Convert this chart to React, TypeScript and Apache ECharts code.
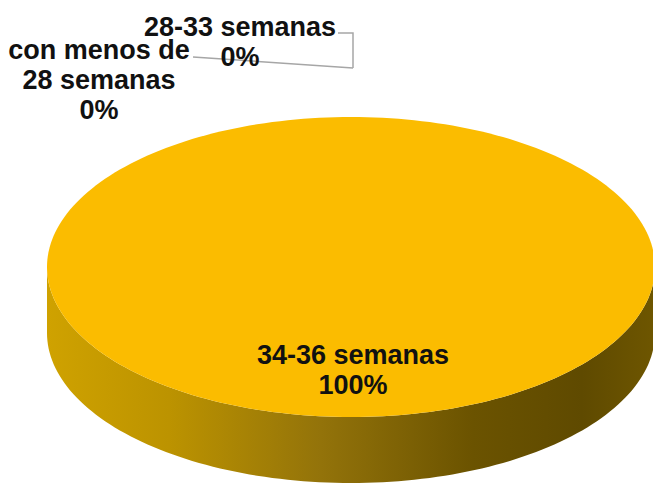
import React, { useEffect, useRef } from "react";
import * as echarts from "echarts";

const categories = ["con menos de\n28 semanas", "28-33 semanas", "34-36 semanas"];
const values = [0, 0, 100];

const W = 653;
const H = 483;
const CX = 351;
const CY = 267;
const RX = 304;
const RY = 150;
const DEPTH = 66;
const TOP_COLOR = "#FBBC00";
const TEXT_COLOR = "#111111";
const FONT = "'Liberation Sans', Arial, sans-serif";

const labelPos: [number, number][] = [
  [99, 80],
  [240, 42],
  [353, 370],
];
const leaders: [number, number][][] = [
  [[193, 57], [353, 68]],
  [[338, 33], [353, 33], [353, 68]],
  [],
];

const total = values.reduce((a, b) => a + b, 0);

function ellipsePoint(angle: number, dy = 0): [number, number] {
  return [CX + RX * Math.cos(angle), CY + dy + RY * Math.sin(angle)];
}

function arcPoints(a0: number, a1: number, dy = 0): [number, number][] {
  const n = Math.max(2, Math.ceil((Math.abs(a1 - a0) / (2 * Math.PI)) * 240));
  const pts: [number, number][] = [];
  for (let i = 0; i <= n; i++) pts.push(ellipsePoint(a0 + ((a1 - a0) * i) / n, dy));
  return pts;
}

export default function App() {
  const ref = useRef<HTMLDivElement>(null);

  useEffect(() => {
    const chart = echarts.init(ref.current!, null, { renderer: "svg" });
    const startAt = -Math.PI / 2;

    chart.setOption({
      animation: false,
      backgroundColor: "#ffffff",
      xAxis: { show: false, type: "value", min: 0, max: W },
      yAxis: { show: false, type: "value", min: 0, max: H },
      grid: { left: 0, right: 0, top: 0, bottom: 0 },
      series: [
        {
          type: "custom",
          coordinateSystem: "none",
          silent: true,
          clip: false,
          data: values.map((v, i) => ({ value: v, name: categories[i] })),
          renderItem: (params: any, api: any) => {
            const i = params.dataIndex;
            const v = api.value(0) as number;
            const before = values.slice(0, i).reduce((a, b) => a + b, 0);
            const a0 = startAt + (before / total) * 2 * Math.PI;
            const a1 = a0 + (v / total) * 2 * Math.PI;
            const children: any[] = [];

            if (v > 0) {
              const full = v === total;
              const from = full ? 0 : Math.max(a0, 0);
              const to = full ? Math.PI : Math.min(a1, Math.PI);
              children.push({
                type: "polygon",
                shape: {
                  points: [...arcPoints(from, to, DEPTH), ...arcPoints(to, from, 0)],
                },
                style: {
                  fill: new echarts.graphic.LinearGradient(1, 0, 0, 0, [
                    { offset: 0, color: "#6E5600" },
                    { offset: 0.12, color: "#5F4A00" },
                    { offset: 0.3, color: "#6B5300" },
                    { offset: 0.55, color: "#93730A" },
                    { offset: 0.8, color: "#BC9300" },
                    { offset: 1, color: "#CFA200" },
                  ]),
                },
              });
              children.push({
                type: "polygon",
                shape: {
                  points: full
                    ? arcPoints(0, 2 * Math.PI)
                    : [[CX, CY], ...arcPoints(a0, a1)],
                },
                style: { fill: TOP_COLOR },
              });
            }

            if (leaders[i].length) {
              children.push({
                type: "polyline",
                shape: { points: leaders[i] },
                style: { stroke: "#A6A6A6", lineWidth: 1.5, fill: "none" },
              });
            }

            const pct = Math.round((v / total) * 100);
            children.push({
              type: "text",
              x: labelPos[i][0],
              y: labelPos[i][1],
              z2: 10,
              style: {
                text: `${categories[i]}\n${pct}%`,
                x: 0,
                y: 0,
                align: "center",
                verticalAlign: "middle",
                fill: TEXT_COLOR,
                fontFamily: FONT,
                fontWeight: "bold",
                fontSize: 27,
                lineHeight: 30,
              },
            });
            return { type: "group", children };
          },
        },
      ],
    });

    return () => chart.dispose();
  }, []);

  return (
    <div
      ref={ref}
      style={{ position: "absolute", left: 0, top: 0, width: W, height: H }}
    />
  );
}
